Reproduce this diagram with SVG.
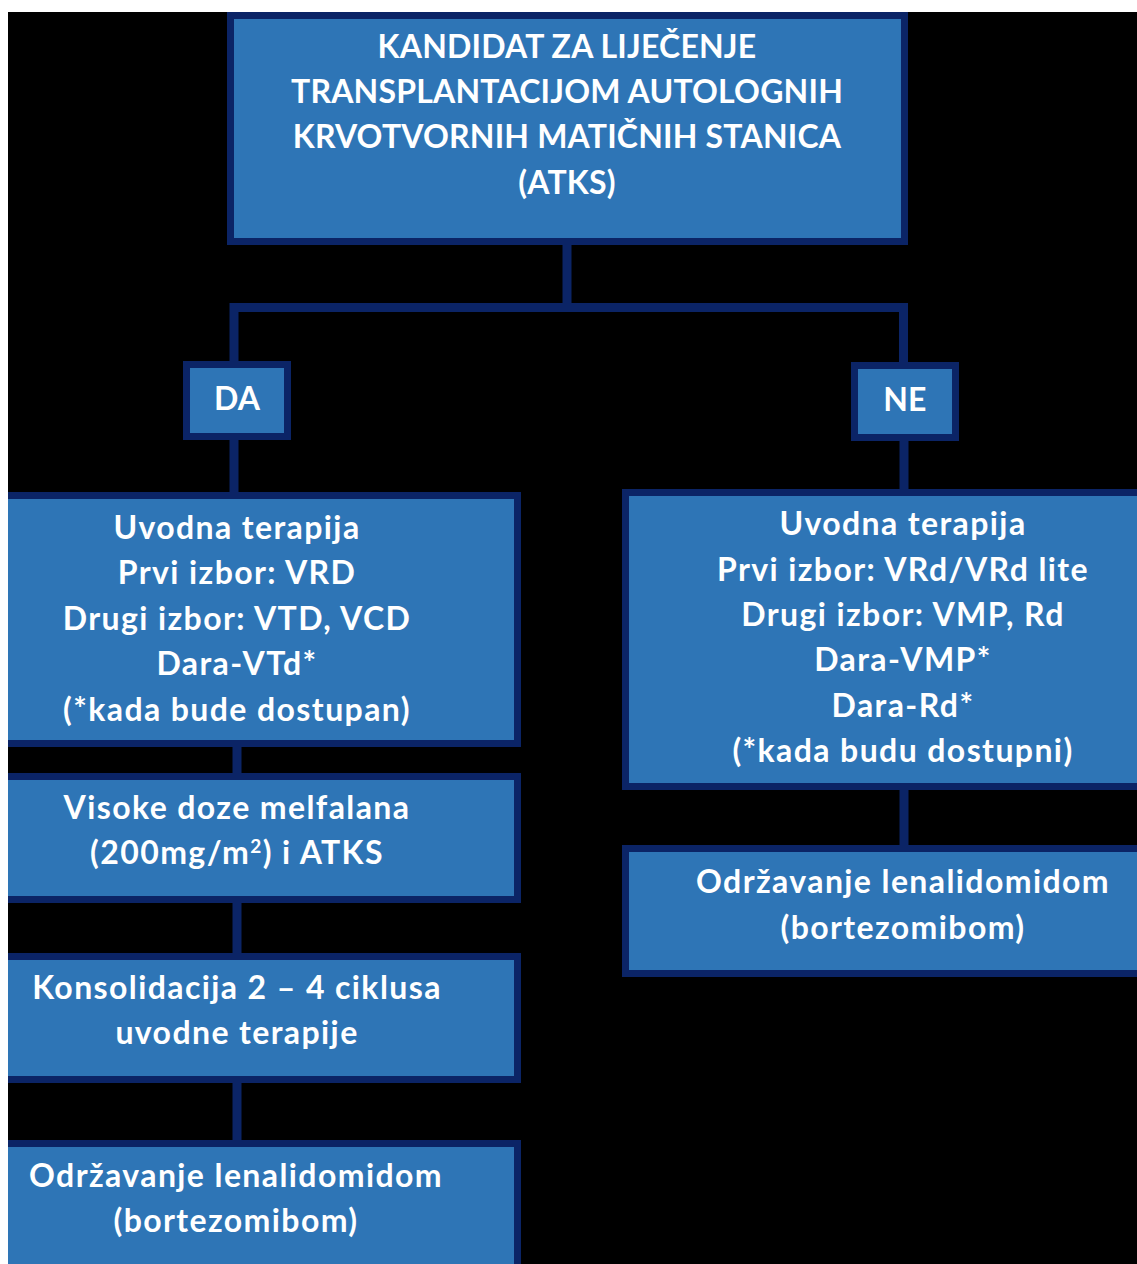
<svg xmlns="http://www.w3.org/2000/svg" width="1137" height="1264" viewBox="0 0 1137 1264">
<style>
.box{fill:#2E75B6;stroke:#0B2466;stroke-width:7}
.t{font-family:Lato,"Liberation Sans",sans-serif;font-weight:bold;font-size:32px;fill:#ffffff;text-anchor:middle;letter-spacing:1.4px}
.h{letter-spacing:0.2px}
.c{fill:none;stroke:#0B2466;stroke-width:9;stroke-linejoin:miter}
</style>
<rect x="0" y="0" width="1137" height="1264" fill="#ffffff"/>
<rect x="8" y="12" width="1129" height="1252" fill="#000000"/>
<g id="connectors">
<path class="c" d="M567,245 V307.5"/>
<path class="c" d="M234,361 V307.5 H903.5 V362"/>
<path class="c" d="M234,440 V492"/>
<path class="c" d="M904,441 V489"/>
<path class="c" d="M237,747 V773"/>
<path class="c" d="M237,903 V953"/>
<path class="c" d="M237,1083 V1140"/>
<path class="c" d="M904,790 V845"/>
</g>
<g id="node-top">
<rect class="box" x="230.5" y="15.5" width="674" height="226"/>
<text class="t h" x="567" y="58">KANDIDAT ZA LIJEČENJE</text>
<text class="t h" x="567" y="103">TRANSPLANTACIJOM AUTOLOGNIH</text>
<text class="t h" x="567" y="148">KRVOTVORNIH  MATIČNIH STANICA</text>
<text class="t h" x="567" y="194">(ATKS)</text>
</g>
<g id="node-da">
<rect class="box" x="186.5" y="364.5" width="101" height="72"/>
<text class="t h" x="237" y="410">DA</text>
</g>
<g id="node-ne">
<rect class="box" x="854.5" y="365.5" width="101" height="72"/>
<text class="t h" x="905" y="411">NE</text>
</g>
<g id="node-left-uvodna">
<rect class="box" x="-10" y="495.5" width="527.5" height="248"/>
<text class="t" x="237" y="539">Uvodna terapija</text>
<text class="t" x="237" y="584">Prvi izbor: VRD</text>
<text class="t" x="237" y="630">Drugi izbor: VTD, VCD</text>
<text class="t" x="237" y="675">Dara-VTd*</text>
<text class="t" x="237" y="721">(*kada bude dostupan)</text>
</g>
<g id="node-left-melfalan">
<rect class="box" x="-10" y="776.5" width="527.5" height="123"/>
<text class="t" x="237" y="819">Visoke doze melfalana</text>
<text class="t" x="237" y="864">(200mg/m<tspan font-size="19" dy="-11">2</tspan><tspan dy="11">) i ATKS</tspan></text>
</g>
<g id="node-left-konsolidacija">
<rect class="box" x="-10" y="956.5" width="527.5" height="123"/>
<text class="t" x="237" y="999">Konsolidacija 2 – 4 ciklusa</text>
<text class="t" x="237" y="1044">uvodne terapije</text>
</g>
<g id="node-left-odrzavanje">
<rect class="box" x="-10" y="1143.5" width="527.5" height="200"/>
<text class="t" x="236" y="1187">Održavanje lenalidomidom</text>
<text class="t" x="236" y="1232">(bortezomibom)</text>
</g>
<g id="node-right-uvodna">
<rect class="box" x="625.5" y="492.5" width="600" height="294"/>
<text class="t" x="903" y="535">Uvodna terapija</text>
<text class="t" x="903" y="581">Prvi izbor: VRd/VRd lite</text>
<text class="t" x="903" y="626">Drugi izbor: VMP, Rd</text>
<text class="t" x="903" y="671">Dara-VMP*</text>
<text class="t" x="903" y="717">Dara-Rd*</text>
<text class="t" x="903" y="762">(*kada budu dostupni)</text>
</g>
<g id="node-right-odrzavanje">
<rect class="box" x="625.5" y="848.5" width="600" height="125"/>
<text class="t" x="903" y="893">Održavanje lenalidomidom</text>
<text class="t" x="903" y="939">(bortezomibom)</text>
</g>
<rect x="0" y="0" width="8" height="1264" fill="#ffffff"/>
</svg>
